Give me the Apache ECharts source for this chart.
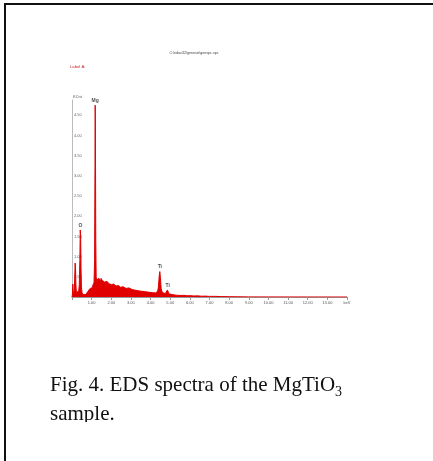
<!DOCTYPE html>
<html><head><meta charset="utf-8">
<script src="https://cdn.jsdelivr.net/npm/echarts@6/dist/echarts.min.js"></script>
<style>html,body{margin:0;padding:0;background:#fff}#c{width:433px;height:461px}</style>
</head><body><div id="c"></div>
<script>
// Spectrum (energy in keV, counts)
const energyKeV = [0.00,0.02,0.04,0.06,0.08,0.10,0.12,0.14,0.16,0.18,0.20,0.22,0.25,0.28,0.31,0.34,0.37,0.40,0.42,0.44,0.46,0.48,0.51,0.55,0.60,0.65,0.70,0.75,0.80,0.84,0.88,0.92,0.96,1.00,1.03,1.06,1.09,1.12,1.15,1.17,1.18,1.19,1.21,1.23,
1.26,1.28,1.30,1.32,1.34,1.36,1.38,1.40,1.42,1.44,1.46,1.48,1.50,1.52,1.54,1.56,1.58,1.60,1.62,1.64,1.66,1.68,1.70,1.73,1.76,1.79,1.82,1.85,1.88,1.91,1.94,1.97,
2.00,2.04,2.08,2.12,2.16,2.20,2.24,2.28,2.32,2.36,2.40,2.44,2.48,2.52,2.56,2.60,2.65,2.70,2.75,2.80,2.85,2.90,2.95,
3.00,3.06,3.12,3.18,3.24,3.30,3.36,3.42,3.48,3.55,3.62,3.69,3.76,3.83,3.90,3.97,
4.04,4.11,4.18,4.25,4.31,4.36,4.40,4.44,4.47,4.50,4.54,4.60,4.68,4.75,4.82,4.86,4.89,4.93,
5.00,5.10,5.20,5.30,5.40,5.55,5.70,5.85,6.00,6.20,6.40,6.60,6.80,7.00,7.30,7.60,8.00,8.50,9.00,10.00,12.00,14.00];
const counts = [0,60,320,120,60,80,200,520,840,700,300,120,90,80,100,140,300,900,1660,1500,700,250,110,60,40,50,60,90,130,110,170,210,190,250,230,290,280,350,900,3200,4750,4300,1400,500,
380,420,395,450,400,465,420,470,430,455,405,460,425,470,410,440,395,430,385,420,370,410,360,395,350,385,340,375,330,360,320,350,
305,340,295,320,280,310,270,300,260,285,250,275,240,268,232,255,222,248,212,235,205,225,195,
215,185,205,172,195,162,182,150,170,142,160,135,150,124,140,115,
130,108,122,102,118,140,250,520,630,480,200,110,95,85,100,175,150,80,
70,60,55,45,50,38,42,30,34,26,28,20,22,15,16,10,8,5,3,2,1,0];
// Peak labels
const peakNames = ['O','Mg','Ti','Ti'];
const peakEnergyKeV = [0.43,1.18,4.47,4.87];
const peakCounts = [1660,4750,630,175];
// Texts
const titleText = 'C:\\edax32\\genesis\\genspc.spc';
const labelText = 'Label A:';
const yUnit = 'KCnt';
const captionLine1 = 'Fig. 4. EDS spectra of the MgTiO';
const captionSub = '3';
const captionLine2 = 'sample.';

const serif = '"Liberation Serif","Times New Roman",serif';
const cv = document.createElement('canvas').getContext('2d');
cv.font = '21px ' + serif;
const w1 = cv.measureText(captionLine1).width;

const chart = echarts.init(document.getElementById('c'), null, {renderer:'canvas'});
const RED = '#e00000';
chart.setOption({
  backgroundColor:'#fff',
  animation:false,
  grid:{left:72,right:86,top:100,bottom:164,containLabel:false},
  xAxis:{type:'value',min:0,max:14,interval:1,
    axisLine:{show:true,onZero:false,lineStyle:{color:'#999',width:1}},
    axisTick:{show:true,length:3,lineStyle:{color:'#999'}},
    splitLine:{show:false},
    axisLabel:{fontSize:4,color:'#555',margin:4,fontFamily:'Liberation Sans',
      formatter:v=> v===0?'':(v===14?'keV':v.toFixed(2))}},
  yAxis:{type:'value',min:0,max:4880,interval:500,
    axisLine:{show:true,lineStyle:{color:'#bbb',width:1}},
    axisTick:{show:false},splitLine:{show:false},
    axisLabel:{inside:true,fontSize:4,color:'#666',margin:2,fontFamily:'Liberation Sans',
      formatter:v=> (v===0||v%500!==0)?'':(v/1000).toFixed(2)}},
  series:[
    {type:'line',data:energyKeV.map((e,i)=>[e,counts[i]]),showSymbol:false,
     lineStyle:{color:RED,width:1},areaStyle:{color:RED,opacity:1},itemStyle:{color:RED},z:2},
    {type:'scatter',data:peakEnergyKeV.map((e,i)=>[e,peakCounts[i]]),symbolSize:0,
     label:{show:true,position:'top',distance:2,fontSize:5,fontWeight:'bold',color:'#222',
       fontFamily:'Liberation Sans',formatter:p=>peakNames[p.dataIndex]},z:3}
  ],
  graphic:[
    {type:'rect',shape:{x:4,y:3,width:429,height:2},style:{fill:'#111'}},
    {type:'rect',shape:{x:4,y:3,width:2,height:458},style:{fill:'#111'}},
    {type:'text',x:194,y:53,style:{text:titleText,fontSize:3.6,fill:'#444',align:'center',verticalAlign:'middle',fontFamily:'Liberation Sans'}},
    {type:'text',x:70,y:67,style:{text:labelText,fontSize:4.2,fill:'#cc2222',align:'left',verticalAlign:'middle',fontFamily:'Liberation Sans'}},
    {type:'text',x:73,y:97,style:{text:yUnit,fontSize:4,fill:'#555',align:'left',verticalAlign:'middle',fontFamily:'Liberation Sans'}},
    {type:'text',x:50,y:385,style:{text:captionLine1,fontSize:21,fill:'#111',align:'left',verticalAlign:'middle',fontFamily:serif}},
    {type:'text',x:50+w1,y:392,style:{text:captionSub,fontSize:14,fill:'#111',align:'left',verticalAlign:'middle',fontFamily:serif}},
    {type:'text',x:50,y:414,style:{text:captionLine2,fontSize:21,fill:'#111',align:'left',verticalAlign:'middle',fontFamily:serif}},
    {type:'rect',shape:{x:6,y:422,width:427,height:39},style:{fill:'#fff'},z:100}
  ]
});
</script></body></html>
